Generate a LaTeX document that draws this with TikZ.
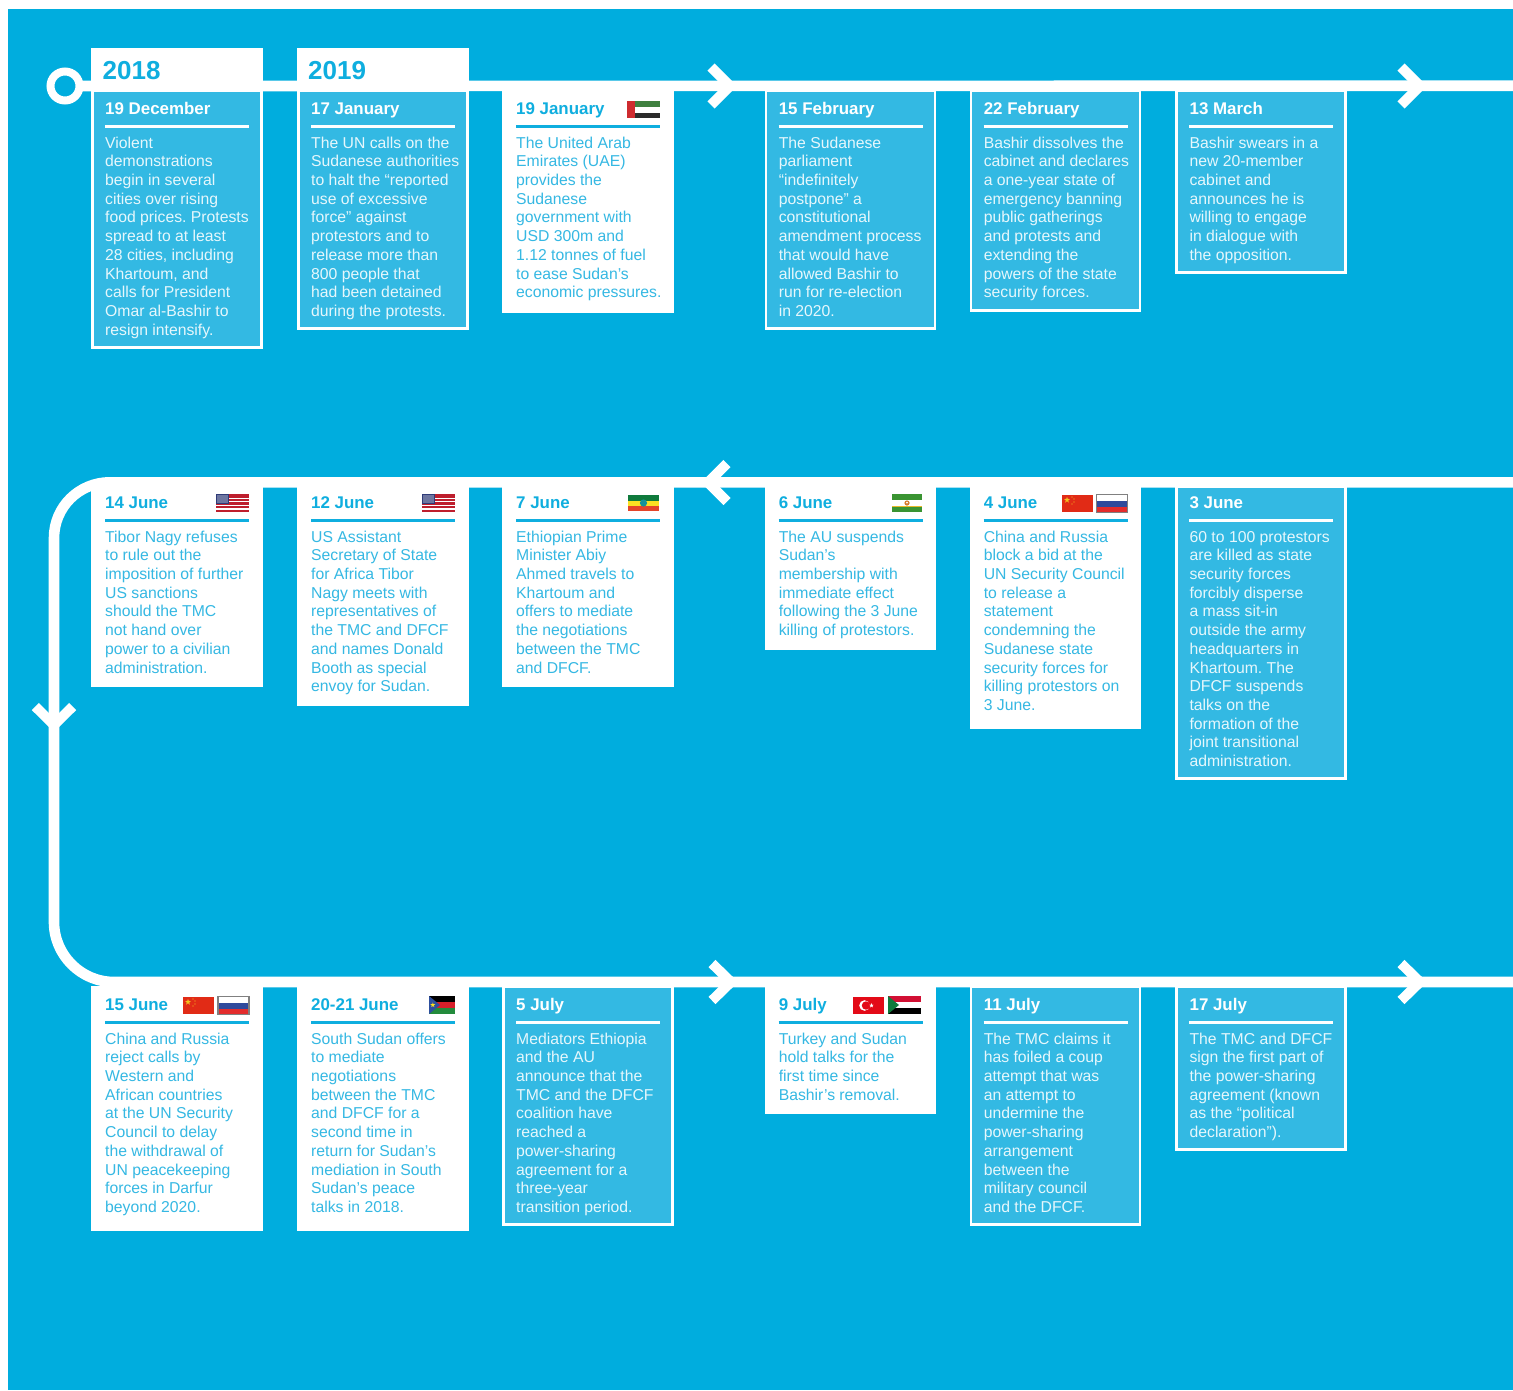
\documentclass[tikz,border=0pt]{standalone}
\usepackage{fontspec}
\setmainfont{Liberation Sans}
\definecolor{bgblue}{HTML}{00ADDE}
\definecolor{cardfill}{HTML}{33B9E3}
\definecolor{inkblue}{HTML}{35B8E3}
\definecolor{headblue}{HTML}{0FAEDF}
\definecolor{textwhite}{HTML}{E6F7FC}
\definecolor{usred}{HTML}{BE1E2D}
\definecolor{usnavy}{HTML}{2F3B78}
\definecolor{uaered}{HTML}{CE2B2F}
\definecolor{uaegreen}{HTML}{3F8040}
\definecolor{flagblack}{HTML}{2B2B2B}
\definecolor{etgreen}{HTML}{0F7A3C}
\definecolor{etyellow}{HTML}{FBE122}
\definecolor{etred}{HTML}{E4452A}
\definecolor{augreen}{HTML}{3A9432}
\definecolor{augold}{HTML}{E8B92A}
\definecolor{cnred}{HTML}{E12B16}
\definecolor{cnstar}{HTML}{F4C21F}
\definecolor{rublue}{HTML}{2F4A9C}
\definecolor{rured}{HTML}{E32C2C}
\definecolor{rugrey}{HTML}{808080}
\definecolor{ssblue}{HTML}{2D4F9E}
\definecolor{ssred}{HTML}{D6202A}
\definecolor{ssgreen}{HTML}{238B3C}
\definecolor{trred}{HTML}{E30A17}
\definecolor{sdred}{HTML}{D21034}
\definecolor{sdgreen}{HTML}{107A3C}
\tikzset{
  track/.style={draw=white,line width=10.6pt,line cap=butt},
  chevron/.style={draw=white,line width=10pt,miter limit=10,line join=miter},
  startring/.style={circle,draw=white,line width=8pt,fill=bgblue,minimum size=29pt,inner sep=0pt,outer sep=0pt},
  yeartab/.style={fill=white,anchor=north west,minimum width=171.6pt,minimum height=43pt,inner sep=0pt,outer sep=0pt},
  yeartext/.style={anchor=base west,inner sep=0pt,text=headblue,font=\bfseries\fontsize{26}{30}\selectfont},
  cardblue/.style={rectangle,fill=cardfill,draw=white,line width=2.6pt,inner sep=0pt,outer sep=0pt,anchor=north west},
  cardwhite/.style={rectangle,fill=white,draw=white,line width=2.6pt,inner sep=0pt,outer sep=0pt,anchor=north west},
  datetext/.style={anchor=base west,inner sep=0pt,font=\bfseries\fontsize{16.9}{20}\selectfont},
  bodytext/.style={anchor=base west,inner sep=0pt,font=\frenchspacing\fontsize{15.75}{18.72}\selectfont},
}
\renewcommand{\arraystretch}{1}
% #1 name, #2 kind (blue/white), #3 x, #4 top, #5 bottom, #6 date baseline, #7 date, #8 body
\newcommand{\tlcard}[8]{%
  \ifx#2b\def\tlstyle{cardblue}\def\tlink{textwhite}\def\tlhead{white}\def\tlrule{white}%
  \else\def\tlstyle{cardwhite}\def\tlink{inkblue}\def\tlhead{headblue}\def\tlrule{headblue}\fi
  \node[\tlstyle,minimum width=168.9pt,minimum height={(#5-#4-2.6)*1pt}] (#1) at ({#3+1.3},{#4+1.3}) {};
  \node[datetext,text=\tlhead] (#1date) at ({#3+14},#6) {#7};
  \draw[\tlrule,line width=3pt] ({#3+14},{#6+12.8}) -- ({#3+158},{#6+12.8});
  \node[bodytext,text=\tlink] (#1body) at ({#3+14},{#6+34}) {\begin{tabular}[t]{@{}l@{}}#8\end{tabular}};
}
\newcommand{\tlstar}[4]{\fill[#4,shift={(#1,#2)}] (-90:#3) -- (-54:{.4*#3}) -- (-18:#3) -- (18:{.4*#3}) -- (54:#3) -- (90:{.4*#3}) -- (126:#3) -- (162:{.4*#3}) -- (198:#3) -- (234:{.4*#3}) -- cycle;}
\newcommand{\flagUS}[2]{\begin{scope}[shift={(#1,#2)}]
  \fill[usred] (0,0) rectangle (33,18);
  \foreach \s in {3.6,7.2,10.8,14.4}{\fill[white] (0,\s) rectangle (33,\s+1.1);}
  \fill[usnavy] (0,0) rectangle (13.3,10);
  \fill[white!30!usnavy] (1,1) rectangle (12.3,9);
\end{scope}}
\newcommand{\flagUAE}[2]{\begin{scope}[shift={(#1,#2)}]
  \fill[uaegreen] (0,0) rectangle (33,5.5);
  \fill[white] (0,5.5) rectangle (33,11.5);
  \fill[flagblack] (0,11.5) rectangle (33,17);
  \fill[uaered] (0,0) rectangle (8,17);
\end{scope}}
\newcommand{\flagET}[2]{\begin{scope}[shift={(#1,#2)}]
  \fill[etgreen] (0,0) rectangle (31,6);
  \fill[etyellow] (0,6) rectangle (31,11);
  \fill[etred] (0,11) rectangle (31,16);
  \fill[ssblue!50!etgreen!70!cyan] (15.5,8) circle (3.6);
\end{scope}}
\newcommand{\flagAU}[2]{\begin{scope}[shift={(#1,#2)}]
  \fill[augreen] (0,0) rectangle (30,18);
  \fill[augold] (0,5.5) rectangle (30,12.5);
  \fill[white] (0,6.3) rectangle (30,11.7);
  \fill[augold!60!usred] (15,9) circle (2.6);
  \fill[white] (15,8.6) circle (1);
\end{scope}}
\newcommand{\flagCN}[2]{\begin{scope}[shift={(#1,#2)}]
  \fill[cnred] (0,0) rectangle (31,17);
  \tlstar{5}{5}{3.2}{cnstar}
  \foreach \a/\b in {10/2,12/4,12/7,10/9}{\fill[cnstar] (\a,\b) circle (.7);}
\end{scope}}
\newcommand{\flagRU}[2]{\begin{scope}[shift={(#1,#2)}]
  \fill[white] (0,0) rectangle (31,6);
  \fill[rublue] (0,6) rectangle (31,12);
  \fill[rured] (0,12) rectangle (31,18);
  \draw[rugrey,line width=1.4pt] (0,0) rectangle (31,18);
\end{scope}}
\newcommand{\flagSS}[2]{\begin{scope}[shift={(#1,#2)}]
  \fill[black] (0,0) rectangle (26,6);
  \fill[ssred] (0,6) rectangle (26,12);
  \fill[ssgreen] (0,12) rectangle (26,18);
  \fill[ssblue] (0,0) -- (11,9) -- (0,18) -- cycle;
  \tlstar{3.8}{9}{2.6}{etyellow}
\end{scope}}
\newcommand{\flagTR}[2]{\begin{scope}[shift={(#1,#2)}]
  \fill[trred] (0,0) rectangle (31,17);
  \fill[white] (11.5,8.5) circle (5.3);
  \fill[trred] (13,8.5) circle (4.2);
  \tlstar{18.5}{8.5}{2.4}{white}
\end{scope}}
\newcommand{\flagSD}[2]{\begin{scope}[shift={(#1,#2)}]
  \fill[sdred] (0,0) rectangle (33,6);
  \fill[white] (0,6) rectangle (33,12);
  \fill[black] (0,12) rectangle (33,18);
  \fill[sdgreen] (0,0) -- (11,9) -- (0,18) -- cycle;
\end{scope}}
\begin{document}
\begin{tikzpicture}[x=1pt,y=-1pt]
\useasboundingbox (0,0) rectangle (1513,1390);
\fill[bgblue] (8,9) rectangle (1513,1390);
% named ends of the timeline
\coordinate (rowAend) at (1513,85.7);
\coordinate (rowBstart) at (1513,482.3);
\coordinate (rowBarc) at (110,482.3);
\coordinate (sideTop) at (54,538);
\coordinate (sideBot) at (54,922);
\coordinate (rowCarc) at (114,982);
\coordinate (rowCend) at (1513,982);
\node[startring] (start) at (65,86) {};
\draw[track] (start.east) -- (rowAend);
\draw[track] (rowBstart) -- (rowBarc) .. controls (79,482.3) and (54,507) .. (sideTop) -- (sideBot) .. controls (54,955) and (81,982) .. (rowCarc) -- (rowCend);
% chevrons
\draw[chevron] (711,67) -- (730,86) -- (711,105);
\draw[chevron] (1401,67) -- (1420,86) -- (1401,105);
\draw[chevron] (727,463.5) -- (708,482.5) -- (727,501.5);
\draw[chevron] (35.3,706.5) -- (54,725) -- (72.7,706.5);
\draw[chevron] (712,963.5) -- (731,982) -- (712,1000.5);
\draw[chevron] (1401,963.5) -- (1420,982) -- (1401,1000.5);
% first row
\node[yeartab] (tabA) at (91,48) {};
\node[yeartab] (tabB) at (297,48) {};
\node[yeartext] (yearA) at (102.5,79.5) {2018};
\node[yeartext] (yearB) at (308,79.5) {2019};
\tlcard{a}{b}{91}{89}{349}{114}{19 December}{Violent\\demonstrations\\begin in several\\cities over rising\\food prices. Protests\\spread to at least\\28 cities, including\\Khartoum, and\\calls for President\\Omar al-Bashir to\\resign intensify.}
\tlcard{b}{b}{297}{89}{330}{114}{17 January}{The UN calls on the\\Sudanese authorities\\to halt the “reported\\use of excessive\\force” against\\protestors and to\\release more than\\800 people that\\had been detained\\during the protests.}
\tlcard{c}{w}{502}{89}{313}{114}{19 January}{The United Arab\\Emirates (UAE)\\provides the\\Sudanese\\government with\\USD 300m and\\1.12 tonnes of fuel\\to ease Sudan’s\\economic pressures.}
\tlcard{d}{b}{764.6}{89}{330}{114}{15 February}{The Sudanese\\parliament\\“indefinitely\\postpone” a\\constitutional\\amendment process\\that would have\\allowed Bashir to\\run for re-election\\in 2020.}
\tlcard{e}{b}{969.6}{89}{312}{114}{22 February}{Bashir dissolves the\\cabinet and declares\\a one-year state of\\emergency banning\\public gatherings\\and protests and\\extending the\\powers of the state\\security forces.}
\tlcard{f}{b}{1175.4}{89}{274}{114}{13 March}{Bashir swears in a\\new 20-member\\cabinet and\\announces he is\\willing to engage\\in dialogue with\\the opposition.}
% second row
\tlcard{g}{w}{91}{485.5}{687}{508}{14 June}{Tibor Nagy refuses\\to rule out the\\imposition of further\\US sanctions\\should the TMC\\not hand over\\power to a civilian\\administration.}
\tlcard{h}{w}{297}{485.5}{706}{508}{12 June}{US Assistant\\Secretary of State\\for Africa Tibor\\Nagy meets with\\representatives of\\the TMC and DFCF\\and names Donald\\Booth as special\\envoy for Sudan.}
\tlcard{i}{w}{502}{485.5}{687}{508}{7 June}{Ethiopian Prime\\Minister Abiy\\Ahmed travels to\\Khartoum and\\offers to mediate\\the negotiations\\between the TMC\\and DFCF.}
\tlcard{j}{w}{764.6}{485.5}{650}{508}{6 June}{The AU suspends\\Sudan’s\\membership with\\immediate effect\\following the 3 June\\killing of protestors.}
\tlcard{k}{w}{969.6}{485.5}{729}{508}{4 June}{China and Russia\\block a bid at the\\UN Security Council\\to release a\\statement\\condemning the\\Sudanese state\\security forces for\\killing protestors on\\3 June.}
\tlcard{l}{b}{1175.4}{485.5}{780}{508}{3 June}{60 to 100 protestors\\are killed as state\\security forces\\forcibly disperse\\a mass sit-in\\outside the army\\headquarters in\\Khartoum. The\\DFCF suspends\\talks on the\\formation of the\\joint transitional\\administration.}
% third row
\tlcard{m}{w}{91}{985.5}{1231}{1010}{15 June}{China and Russia\\reject calls by\\Western and\\African countries\\at the UN Security\\Council to delay\\the withdrawal of\\UN peacekeeping\\forces in Darfur\\beyond 2020.}
\tlcard{n}{w}{297}{985.5}{1231}{1010}{20-21 June}{South Sudan offers\\to mediate\\negotiations\\between the TMC\\and DFCF for a\\second time in\\return for Sudan’s\\mediation in South\\Sudan’s peace\\talks in 2018.}
\tlcard{o}{b}{502}{985.5}{1226}{1010}{5 July}{Mediators Ethiopia\\and the AU\\announce that the\\TMC and the DFCF\\coalition have\\reached a\\power-sharing\\agreement for a\\three-year\\transition period.}
\tlcard{p}{w}{764.6}{985.5}{1114}{1010}{9 July}{Turkey and Sudan\\hold talks for the\\first time since\\Bashir’s removal.}
\tlcard{q}{b}{969.6}{985.5}{1226}{1010}{11 July}{The TMC claims it\\has foiled a coup\\attempt that was\\an attempt to\\undermine the\\power-sharing\\arrangement\\between the\\military council\\and the DFCF.}
\tlcard{r}{b}{1175.4}{985.5}{1151}{1010}{17 July}{The TMC and DFCF\\sign the first part of\\the power-sharing\\agreement (known\\as the “political\\declaration”).}
% flags
\flagUAE{627}{101}
\flagUS{216}{494}
\flagUS{422}{494}
\flagET{628}{495}
\flagAU{892}{494}
\flagCN{1062}{495}
\flagRU{1096.5}{494.5}
\flagCN{183}{997}
\flagRU{218}{996.5}
\flagSS{429}{996}
\flagTR{853}{997}
\flagSD{888}{996}
\end{tikzpicture}
\end{document}
